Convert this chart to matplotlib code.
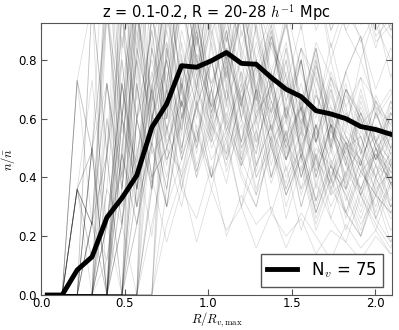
import matplotlib
matplotlib.use('Agg')
import matplotlib.pyplot as plt
import numpy as np

# radial bins (R / R_v,max)
r_bins = [0.037, 0.126, 0.216, 0.305, 0.394, 0.484, 0.573, 0.663, 0.752,
          0.841, 0.931, 1.020, 1.110, 1.199, 1.288, 1.378, 1.467, 1.557,
          1.646, 1.735, 1.825, 1.914, 2.004, 2.093, 2.182]

# stacked mean profile
mean_profile = [0.0, 0.0, 0.085, 0.13, 0.264, 0.33, 0.407, 0.57, 0.65, 0.78,
                0.775, 0.797, 0.825, 0.788, 0.785, 0.74, 0.70, 0.675, 0.627,
                0.616, 0.60, 0.573, 0.563, 0.547, 0.535]

# individual void profiles, n/nbar in percent
voids = [
    [0,0,36,24,110,60,45,95,70,118,85,100,72,96,80,62,84,58,76,52,70,48,66,54,60],
    [0,0,36,0,24,72,40,68,46,60,74,50,62,44,56,38,54,30,48,34,40,28,44,30,38],
    [0,0,36,49,0,50,98,64,112,80,60,96,74,108,66,90,58,80,52,72,46,64,50,56,42],
    [0,0,36,12,60,30,48,76,50,42,64,80,58,46,70,52,62,40,56,36,50,54,38,46,48],
    [0,0,36,24,0,80,30,66,92,120,76,96,130,88,104,72,92,66,84,60,76,88,62,70,56],
    [0,0,36,73,24,42,130,62,40,66,52,80,56,44,70,50,38,56,32,50,28,46,26,40,32],
    [0,0,36,24,48,0,60,38,84,56,96,64,76,104,68,52,80,46,70,38,62,54,34,50,40],
    [0,0,36,49,100,55,80,150,120,140,170,130,150,116,140,120,130,104,120,100,110,94,100,92,86],
    [0,0,36,12,24,60,30,52,70,36,58,40,66,42,30,52,34,46,24,40,28,20,36,22,30],
    [0,0,36,24,72,40,96,68,118,84,64,102,80,122,88,70,94,62,86,74,56,80,64,58,72],
    [0,0,73,49,140,60,96,150,106,140,180,126,142,150,118,130,108,120,98,110,90,100,92,80,90],
    [0,0,73,100,48,88,60,74,100,60,80,56,88,66,50,70,46,62,40,58,52,36,48,42,38],
    [0,0,73,24,96,40,84,60,110,70,52,88,66,98,58,76,48,68,42,62,36,56,44,32,48],
    [0,0,73,49,0,72,36,84,52,66,90,58,44,70,80,50,64,40,58,46,36,54,40,48,36],
    [0,0,0,25,100,36,80,50,96,68,120,84,60,90,72,54,84,46,74,58,40,66,50,44,56],
    [0,0,0,50,0,120,48,70,44,80,56,40,70,52,80,56,46,64,40,58,36,48,54,38,42],
    [0,0,0,25,0,48,24,52,30,66,40,56,72,46,34,60,40,50,28,44,34,20,38,26,30],
    [0,0,0,100,48,140,72,140,116,160,128,170,140,118,148,124,104,130,108,92,112,100,84,100,88],
    [0,0,0,50,24,72,100,52,80,120,74,92,64,108,80,96,60,84,70,50,76,58,64,44,60],
    [0,0,0,25,72,24,60,36,64,40,54,70,42,58,34,48,60,36,46,30,42,50,26,38,32],
    [0,0,0,50,96,60,130,108,130,150,114,140,120,98,130,110,120,94,110,84,100,108,86,92,78],
    [0,0,0,25,12,48,30,52,30,46,64,40,54,30,44,58,34,48,26,40,22,36,26,18,30],
    [0,0,0,100,0,84,120,94,140,170,124,150,128,112,140,116,130,100,116,90,104,114,88,94,80],
    [0,0,0,50,72,36,96,60,60,82,50,70,90,60,48,74,54,64,40,58,46,34,50,40,44],
    [0,0,0,25,48,96,42,70,104,60,92,70,48,84,100,62,80,50,68,58,38,60,46,56,40],
    [0,0,0,50,0,60,110,66,90,130,78,106,86,120,90,70,98,76,60,86,64,74,52,66,56],
    [0,0,0,0,36,96,60,120,80,102,70,118,90,64,100,76,92,62,84,56,72,48,66,58,50],
    [0,0,0,0,48,0,72,40,72,46,70,54,38,64,48,74,52,42,58,36,50,44,30,46,38],
    [0,0,0,0,24,72,42,96,60,110,80,64,98,74,52,86,66,80,54,70,44,62,50,36,54],
    [0,0,0,0,120,60,100,170,118,150,126,160,130,110,140,120,130,106,116,96,106,118,94,98,86],
    [0,0,0,0,36,24,80,40,50,70,42,58,48,66,40,50,34,48,28,42,36,24,34,28,24],
    [0,0,0,0,48,110,66,124,160,130,106,140,114,146,118,126,102,116,90,104,90,80,96,74,88],
    [0,0,0,0,12,48,24,60,36,72,44,62,80,50,68,40,56,30,48,26,42,34,22,38,30],
    [0,0,0,0,96,48,120,84,66,106,90,124,94,72,100,84,70,92,62,80,58,74,66,50,68],
    [0,0,0,0,24,60,36,70,46,58,82,52,70,44,60,76,46,58,38,52,32,46,36,42,34],
    [0,0,0,0,60,24,84,58,100,76,96,120,80,104,70,90,62,84,74,52,70,60,46,64,56],
    [0,0,0,0,48,80,36,60,76,46,64,52,78,50,60,40,56,34,50,44,28,42,34,44,30],
    [0,0,0,0,130,84,110,180,134,154,128,170,136,152,122,136,122,108,126,100,112,100,106,90,98],
    [0,0,0,0,24,0,48,20,58,36,66,40,52,30,56,28,44,22,38,26,18,34,24,16,30],
    [0,0,0,0,72,36,90,54,110,70,86,120,74,96,62,88,70,56,80,48,68,58,40,62,54],
    [0,0,0,0,0,60,36,96,72,110,80,64,104,84,70,92,60,80,52,74,64,44,62,50,58],
    [0,0,0,0,0,96,60,90,50,74,96,62,82,66,78,56,70,50,64,44,56,50,40,54,46],
    [0,0,0,0,0,24,60,36,80,48,96,62,82,52,76,44,66,40,58,34,52,46,28,44,36],
    [0,0,0,0,0,120,84,170,134,160,130,180,144,124,150,128,116,138,110,124,100,110,114,96,102],
    [0,0,0,0,0,36,96,48,56,40,66,46,56,72,44,58,36,52,30,46,26,42,34,28,38],
    [0,0,0,0,0,48,110,100,126,160,114,146,120,100,130,106,120,90,110,80,96,88,70,84,76],
    [0,0,0,0,0,72,30,84,110,70,98,120,86,106,76,92,66,84,56,76,62,50,68,56,46],
    [0,0,0,0,0,24,72,40,50,66,42,60,46,68,40,54,36,50,32,44,38,26,40,30,34],
    [0,0,0,0,0,36,80,120,68,96,128,88,110,80,102,72,94,64,84,58,76,88,60,68,74],
    [0,0,0,0,0,96,36,60,80,50,70,58,80,46,62,70,42,56,46,38,52,34,44,40,30],
    [0,0,0,0,0,24,0,40,18,36,26,44,20,34,24,30,16,28,20,12,24,16,22,14,18],
    [0,0,0,0,0,60,120,108,160,140,170,126,150,130,116,140,120,104,124,106,92,110,94,100,86],
    [0,0,0,0,0,0,36,84,60,104,70,94,120,82,66,96,74,58,82,50,70,62,46,66,54],
    [0,0,0,0,0,0,96,60,80,56,88,66,52,76,60,72,50,64,44,58,50,40,52,42,46],
    [0,0,0,0,0,0,24,60,36,74,48,86,58,76,44,70,52,64,36,58,46,30,50,38,42],
    [0,0,0,0,0,0,120,110,170,130,160,140,118,150,126,140,114,124,104,114,96,104,90,98,84],
    [0,0,0,0,0,0,36,72,30,60,88,54,76,48,70,40,64,50,32,56,44,36,50,30,42],
    [0,0,0,0,0,0,60,80,56,86,64,80,56,72,52,66,46,60,52,40,54,42,48,38,44],
    [0,0,0,0,0,0,130,120,150,130,170,134,154,122,140,116,130,106,118,96,110,92,102,94,86],
    [0,0,0,0,0,0,24,50,30,62,40,70,46,60,36,54,30,48,28,44,34,22,40,28,34],
    [0,0,0,0,0,0,72,36,96,64,84,110,70,96,60,86,74,52,78,60,44,68,52,60,46],
    [0,0,0,0,0,0,60,90,56,72,90,60,78,52,70,62,46,66,42,56,48,36,52,40,46],
    [0,0,0,0,0,0,0,96,60,100,74,112,80,96,64,88,72,54,80,50,70,60,44,62,52],
    [0,0,0,0,0,0,0,60,90,64,82,72,94,66,80,60,72,64,52,68,50,62,52,46,56],
    [0,0,0,0,0,0,0,36,70,48,90,60,84,64,92,56,76,48,68,56,40,62,46,54,38],
    [0,0,0,0,0,0,0,160,126,180,140,166,134,150,122,140,120,106,126,100,112,94,106,90,98],
    [0,0,0,0,0,0,0,24,50,30,56,36,60,40,30,52,26,44,22,36,28,20,34,18,26],
    [0,0,0,0,0,0,0,72,86,50,72,90,66,80,56,72,50,66,46,60,52,42,56,44,48],
    [0,0,0,0,0,0,0,120,54,90,70,104,82,64,92,70,86,56,78,64,48,70,52,62,56],
    [0,0,0,0,0,0,0,36,84,54,100,70,90,60,86,66,52,80,46,70,54,44,62,48,56],
    [0,0,0,0,0,0,0,0,72,100,66,110,78,96,68,88,60,80,52,74,60,44,62,50,56],
    [0,0,0,0,0,0,0,0,86,64,94,72,84,60,78,66,54,72,52,64,54,46,58,48,52],
    [0,0,0,0,0,0,0,0,36,72,50,80,54,70,42,64,50,36,58,40,52,34,48,38,44],
    [0,0,0,0,0,0,0,0,24,40,18,36,22,30,16,28,20,26,14,22,18,12,20,14,16],
    [0,0,0,0,0,0,0,0,102,150,114,136,160,122,136,112,120,100,114,90,102,86,96,88,82],
]

n_voids = len(voids)

plt.rcParams['font.family'] = 'DejaVu Sans'
plt.rcParams['mathtext.fontset'] = 'cm'

fig = plt.figure(figsize=(3.99, 3.30), dpi=100)
ax = fig.add_axes([0.103, 0.106, 0.879, 0.824])

# thin grey line per void
for v in voids:
    ax.plot(r_bins, np.array(v) / 100.0, color='black', alpha=0.13, lw=0.6)

# stacked profile on top
ax.plot(r_bins, mean_profile, color='black', lw=3.5,
        label=r'N$_v$ = %d' % n_voids)

ax.set_xlim(0, 2.1)
ax.set_ylim(0, 0.925)
ax.set_xticks([0.0, 0.5, 1.0, 1.5, 2.0])
ax.set_yticks([0.0, 0.2, 0.4, 0.6, 0.8])
ax.set_xticklabels(['0.0', '0.5', '1.0', '1.5', '2.0'])
ax.set_yticklabels(['0.0', '0.2', '0.4', '0.6', '0.8'])
ax.tick_params(direction='in', top=True, right=True, labelsize=8.5, length=4,
               color='#555555')
ax.tick_params(axis='x', pad=1.5)
ax.tick_params(axis='y', pad=3)
for s in ax.spines.values():
    s.set_color('#555555')

ax.set_xlabel(r'$R/R_{v,\max}$', fontsize=9)
ax.xaxis.set_label_coords(0.5, -0.055)
ax.set_ylabel(r'$n/\bar{n}$', fontsize=9)
ax.yaxis.set_label_coords(-0.07, 0.5)
ax.set_title(r'z = 0.1-0.2, R = 20-28 $h^{-1}$ Mpc', fontsize=10.5, pad=4)

leg = ax.legend(loc='lower right', fontsize=12, fancybox=False,
                handlelength=1.8, borderaxespad=0.5, framealpha=1)
leg.get_frame().set_edgecolor('#555555')

plt.savefig('out.png', dpi=100)
